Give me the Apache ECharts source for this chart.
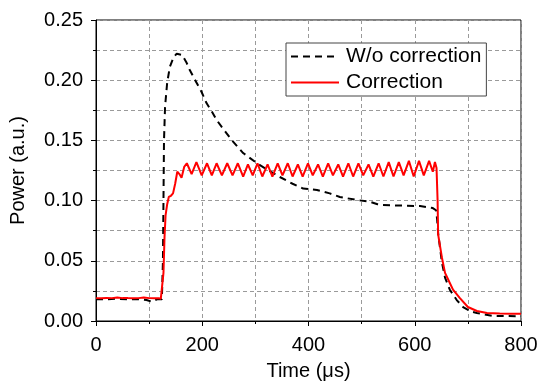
<!DOCTYPE html>
<html>
<head>
<meta charset="utf-8">
<script src="https://cdn.jsdelivr.net/npm/echarts@6/dist/echarts.min.js"></script>
<style>
  html, body { margin: 0; padding: 0; background: #fff; }
  #chart { width: 540px; height: 381px; }
</style>
</head>
<body>
<div id="chart"></div>
<script>
// Time (µs) / power (a.u.) pairs
const withoutCorrection = [
  [0, 0.018], [20, 0.018], [40, 0.0185], [60, 0.018], [80, 0.018], [95, 0.0175],
  [105, 0.016], [115, 0.018], [124, 0.018], [126, 0.05], [127, 0.10], [128, 0.15],
  [130, 0.178], [134, 0.198], [139, 0.211], [146, 0.219], [152, 0.222], [162, 0.221],
  [170, 0.215], [177, 0.208], [188, 0.199], [199, 0.19], [208, 0.181], [218, 0.174],
  [227, 0.167], [237, 0.161], [256, 0.150], [277, 0.1395], [303, 0.131], [325, 0.125],
  [346, 0.1196], [370, 0.114], [390, 0.110], [416, 0.1088], [440, 0.106], [459, 0.103],
  [491, 0.1005], [516, 0.099], [530, 0.097], [540, 0.0963], [580, 0.0958], [610, 0.0955],
  [634, 0.0938], [640, 0.092], [642, 0.085], [644, 0.073], [651, 0.049], [657, 0.036],
  [666, 0.026], [679, 0.0174], [691, 0.0116], [705, 0.008], [717, 0.0066], [747, 0.0042],
  [800, 0.004]
]

const correction = [
  [0, 0.019], [10, 0.0188], [20, 0.0192], [30, 0.019], [40, 0.0195], [50, 0.019],
  [60, 0.019], [70, 0.0188], [80, 0.019], [90, 0.0195], [100, 0.019], [110, 0.0188],
  [118, 0.019], [122, 0.0185], [125, 0.02], [127, 0.04], [129, 0.07], [131, 0.088],
  [134, 0.097], [137, 0.103], [141, 0.104], [145, 0.106], [149, 0.114], [153, 0.124],
  [157, 0.122], [161, 0.119], [166, 0.128], [171, 0.131], [180, 0.122], [189, 0.132],
  [199, 0.121], [209, 0.131], [218, 0.121], [227, 0.131], [237, 0.121], [247, 0.131],
  [257, 0.121], [267, 0.131], [277, 0.120], [286, 0.130], [295, 0.121], [304, 0.131],
  [313, 0.120], [323, 0.130], [332, 0.120], [342, 0.131], [351, 0.121], [361, 0.131],
  [370, 0.120], [380, 0.130], [389, 0.120], [399, 0.131], [408, 0.121], [418, 0.130],
  [427, 0.120], [437, 0.131], [446, 0.121], [456, 0.130], [465, 0.120], [475, 0.131],
  [484, 0.120], [494, 0.131], [503, 0.121], [513, 0.130], [522, 0.120], [532, 0.131],
  [541, 0.120], [551, 0.132], [560, 0.120], [570, 0.132], [579, 0.121], [589, 0.133],
  [598, 0.120], [608, 0.133], [617, 0.121], [627, 0.133], [634, 0.124], [638, 0.132],
  [641, 0.127], [643, 0.10], [644, 0.072], [651, 0.053], [657, 0.040], [666, 0.0316],
  [672, 0.026], [685, 0.019], [700, 0.0116], [717, 0.0083], [736, 0.0066], [760, 0.0062],
  [780, 0.006], [800, 0.006]
]

const seriesNames = ['W/o correction', 'Correction']

const font = 'Liberation Sans, Arial, sans-serif'
const gridDash = { color: '#9a9a9a', type: [4, 3], width: 1 }

const chart = echarts.init(document.getElementById('chart'))

chart.setOption({
  animation: false,
  textStyle: { fontFamily: font },
  grid: {
    left: 96, right: 19, top: 20, bottom: 60,
    outerBoundsMode: 'none',
    containLabel: false,
    show: true, borderColor: '#000', borderWidth: 1, backgroundColor: 'transparent'
  },
  legend: {
    data: seriesNames,
    orient: 'vertical',
    left: 286, top: 43,
    itemWidth: 48, itemHeight: 14, itemGap: 5,
    padding: [3, 5, 3, 4],
    borderColor: '#444', borderWidth: 1, backgroundColor: '#fff',
    itemStyle: { opacity: 0 },
    textStyle: { fontSize: 21, color: '#000', fontFamily: font, padding: [0, 0, 0, 2] }
  },
  xAxis: {
    type: 'value',
    min: 0, max: 800, interval: 200,
    name: 'Time (\u03bcs)',
    nameLocation: 'middle', nameGap: 40,
    nameTextStyle: { fontSize: 20, color: '#000' },
    axisLine: { lineStyle: { color: '#000', width: 1 } },
    axisTick: { length: 5, lineStyle: { color: '#000' } },
    minorTick: { show: true, splitNumber: 2, length: 3, lineStyle: { color: '#000' } },
    axisLabel: { fontSize: 20, color: '#000', margin: 14 },
    splitLine: { show: true, lineStyle: gridDash },
    minorSplitLine: { show: true, lineStyle: gridDash }
  },
  yAxis: {
    type: 'value',
    min: 0, max: 0.25, interval: 0.05,
    name: 'Power (a.u.)',
    nameLocation: 'middle', nameGap: 68,
    nameTextStyle: { fontSize: 20, color: '#000' },
    axisLine: { show: true, lineStyle: { color: '#000', width: 1 } },
    axisTick: { show: true, length: 5, lineStyle: { color: '#000' } },
    minorTick: { show: true, splitNumber: 2, length: 3, lineStyle: { color: '#000' } },
    axisLabel: { fontSize: 20, color: '#000', margin: 13, formatter: v => v.toFixed(2) },
    splitLine: { show: true, lineStyle: gridDash },
    minorSplitLine: { show: true, lineStyle: gridDash }
  },
  series: [
    {
      name: seriesNames[0],
      type: 'line',
      data: withoutCorrection,
      symbol: 'none',
      itemStyle: { color: '#000' },
      lineStyle: { color: '#000', width: 2, type: [7, 5] },
      z: 3
    },
    {
      name: seriesNames[1],
      type: 'line',
      data: correction,
      symbol: 'none',
      itemStyle: { color: '#ff0000' },
      lineStyle: { color: '#ff0000', width: 2 },
      z: 4
    }
  ]
})
</script>
</body>
</html>
